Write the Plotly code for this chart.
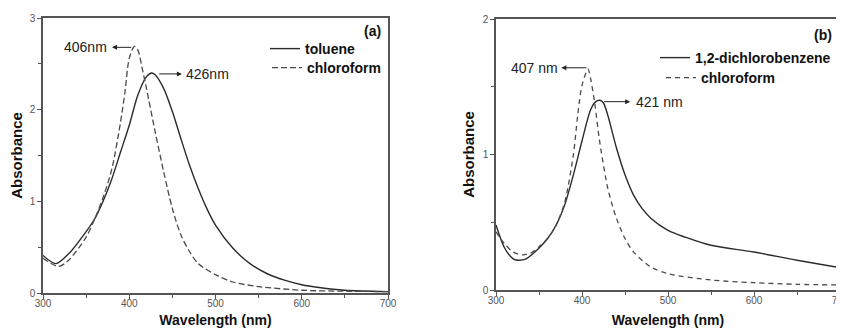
import plotly.graph_objects as go

# ---------------- data ----------------
wl_a_tol = [300, 315, 330, 350, 360, 370, 380, 390, 400, 410, 420, 426, 430, 440, 450, 460, 470, 480, 490, 500, 520, 540, 560, 580, 600, 620, 650, 700]
abs_a_tol = [0.41, 0.32, 0.43, 0.67, 0.81, 1.01, 1.25, 1.54, 1.83, 2.16, 2.36, 2.40, 2.38, 2.23, 1.98, 1.68, 1.39, 1.14, 0.92, 0.74, 0.49, 0.32, 0.21, 0.14, 0.09, 0.06, 0.03, 0.015]

wl_a_chl = [300, 318, 330, 350, 360, 370, 380, 390, 395, 400, 406, 410, 415, 420, 430, 440, 450, 460, 470, 480, 500, 520, 550, 600, 650, 700]
abs_a_chl = [0.38, 0.29, 0.36, 0.61, 0.81, 1.05, 1.36, 1.87, 2.19, 2.56, 2.69, 2.65, 2.45, 2.23, 1.76, 1.32, 0.92, 0.63, 0.45, 0.32, 0.20, 0.12, 0.07, 0.03, 0.02, 0.015]

wl_b_dcb = [300, 310, 320, 325, 335, 350, 360, 370, 380, 390, 400, 410, 416, 421, 425, 430, 440, 450, 460, 470, 480, 500, 520, 550, 600, 650, 700]
abs_b_dcb = [0.48, 0.31, 0.23, 0.22, 0.23, 0.31, 0.38, 0.48, 0.63, 0.85, 1.10, 1.33, 1.39, 1.40, 1.38, 1.29, 1.05, 0.85, 0.70, 0.60, 0.53, 0.44, 0.39, 0.33, 0.28, 0.22, 0.165]

wl_b_chl = [300, 310, 320, 330, 340, 350, 360, 370, 380, 390, 395, 400, 407, 410, 415, 420, 430, 440, 450, 460, 480, 500, 550, 600, 650, 700]
abs_b_chl = [0.43, 0.34, 0.28, 0.26, 0.27, 0.32, 0.38, 0.48, 0.65, 1.00, 1.29, 1.51, 1.63, 1.56, 1.37, 1.12, 0.75, 0.53, 0.38, 0.28, 0.17, 0.12, 0.074, 0.054, 0.042, 0.037]

names_a = ["toluene", "chloroform"]
names_b = ["1,2-dichlorobenzene", "chloroform"]
peak_a = [406, 426]
peak_b = [407, 421]
x_ticks = [300, 400, 500, 600, 700]
y_ticks_a = [0, 1, 2, 3]
y_ticks_b = [0, 1, 2]

# ---------------- styling ----------------
OFF = 8                      # default page body margin
W, H = 844 - OFF, 328 - OFF
MT, MB = 18 - OFF, 35
PH = H - MT - MB
FONT = "Arial, Liberation Sans, sans-serif"
SOLID = "#2b2b2b"
DASH = "#4a4a4a"
AXC = "#555555"


def px(xp):
    return (xp - OFF) / W


def py(yp):
    return (H - MB - (yp - OFF)) / PH


fig = go.Figure()

fig.add_trace(go.Scatter(x=wl_a_tol, y=abs_a_tol, name=names_a[0], mode="lines",
                         line=dict(color=SOLID, width=1.4, shape="spline", smoothing=0.8),
                         xaxis="x", yaxis="y", legend="legend"))
fig.add_trace(go.Scatter(x=wl_a_chl, y=abs_a_chl, name=names_a[1], mode="lines",
                         line=dict(color=DASH, width=1.3, dash="6px,3px", shape="spline", smoothing=0.8),
                         xaxis="x", yaxis="y", legend="legend3"))
fig.add_trace(go.Scatter(x=wl_b_dcb, y=abs_b_dcb, name=names_b[0], mode="lines",
                         line=dict(color=SOLID, width=1.4, shape="spline", smoothing=0.8),
                         xaxis="x2", yaxis="y2", legend="legend2"))
fig.add_trace(go.Scatter(x=wl_b_chl, y=abs_b_chl, name=names_b[1], mode="lines",
                         line=dict(color=DASH, width=1.3, dash="5px,4px", shape="spline", smoothing=0.8),
                         xaxis="x2", yaxis="y2", legend="legend4"))

common_x = dict(range=[300, 700], tickvals=x_ticks, ticks="outside", ticklen=4, tickwidth=1,
                tickcolor=AXC, showline=True, linecolor=AXC, linewidth=1.5, mirror=True,
                showgrid=False, zeroline=False, ticklabeloverflow="allow", ticklabelstandoff=-4,
                tickfont=dict(family=FONT, size=10, color="#555"),
                minor=dict(ticks="outside", ticklen=3, dtick=50, tick0=300, tickcolor=AXC, showgrid=False),
                title=dict(text="Wavelength (nm)", font=dict(family=FONT, size=14, color="#111", weight="bold"), standoff=10),
                automargin=False)
common_y = dict(ticks="outside", ticklen=4, tickwidth=1, tickcolor=AXC, showline=True,
                linecolor=AXC, linewidth=1.5, mirror=True, showgrid=False, zeroline=False,
                tickfont=dict(family=FONT, size=10, color="#555"),
                minor=dict(ticks="outside", ticklen=3, dtick=0.5, tick0=0, tickcolor=AXC, showgrid=False),
                title=dict(text="Absorbance", font=dict(family=FONT, size=15, color="#111", weight="bold"), standoff=4),
                automargin=False)

LEG_FONT = dict(family=FONT, size=14, color="#111", weight="bold")


def leg(xp, yp):
    return dict(x=px(xp), y=py(yp), xanchor="left", yanchor="middle", bgcolor="rgba(0,0,0,0)",
                font=LEG_FONT, tracegroupgap=0, borderwidth=0)


fig.update_layout(
    width=W, height=H,
    margin=dict(l=0, r=0, t=MT, b=MB),
    paper_bgcolor="white", plot_bgcolor="white",
    xaxis=dict(common_x, domain=[px(43), px(388)], anchor="y"),
    yaxis=dict(common_y, domain=[py(293), py(18)], range=[0, 3], tickvals=y_ticks_a, anchor="x"),
    xaxis2=dict(common_x, domain=[px(496), px(840)], anchor="y2"),
    yaxis2=dict(common_y, domain=[py(290), py(19)], range=[0, 2], tickvals=y_ticks_b, anchor="x2"),
    legend=leg(265, 49),
    legend3=leg(267, 68),
    legend2=leg(655, 58),
    legend4=leg(661, 78),
    showlegend=True,
)

ann = []
# panel labels
ann.append(dict(text="(a)", xref="paper", yref="paper", x=px(383), y=py(31), xanchor="right", yanchor="middle",
                showarrow=False, font=dict(family=FONT, size=14, color="#111", weight="bold")))
ann.append(dict(text="(b)", xref="paper", yref="paper", x=px(834), y=py(35), xanchor="right", yanchor="middle",
                showarrow=False, font=dict(family=FONT, size=14, color="#111", weight="bold")))

# peak arrows panel a
ann.append(dict(x=380, y=2.68, ax=404, ay=2.68, xref="x", yref="y", axref="x", ayref="y", text="",
                showarrow=True, arrowhead=2, arrowsize=1, arrowwidth=1, arrowcolor="#222"))
ann.append(dict(x=377, y=2.68, xref="x", yref="y", text=f"{peak_a[0]}nm", xanchor="right", yanchor="middle",
                showarrow=False, font=dict(family=FONT, size=14, color="#222")))
ann.append(dict(x=461, y=2.39, ax=433, ay=2.39, xref="x", yref="y", axref="x", ayref="y", text="",
                showarrow=True, arrowhead=2, arrowsize=1, arrowwidth=1, arrowcolor="#222"))
ann.append(dict(x=464, y=2.39, xref="x", yref="y", text=f"{peak_a[1]}nm", xanchor="left", yanchor="middle",
                showarrow=False, font=dict(family=FONT, size=14, color="#222")))

# peak arrows panel b
ann.append(dict(x=376, y=1.64, ax=407, ay=1.64, xref="x2", yref="y2", axref="x2", ayref="y2", text="",
                showarrow=True, arrowhead=2, arrowsize=1, arrowwidth=1, arrowcolor="#222"))
ann.append(dict(x=374, y=1.64, xref="x2", yref="y2", text=f"{peak_b[0]} nm", xanchor="right", yanchor="middle",
                showarrow=False, font=dict(family=FONT, size=14, color="#222")))
ann.append(dict(x=456, y=1.39, ax=424, ay=1.39, xref="x2", yref="y2", axref="x2", ayref="y2", text="",
                showarrow=True, arrowhead=2, arrowsize=1, arrowwidth=1, arrowcolor="#222"))
ann.append(dict(x=460, y=1.39, xref="x2", yref="y2", text=f"{peak_b[1]} nm", xanchor="left", yanchor="middle",
                showarrow=False, font=dict(family=FONT, size=14, color="#222")))

fig.update_layout(annotations=ann)

fig.write_html("out.html")
